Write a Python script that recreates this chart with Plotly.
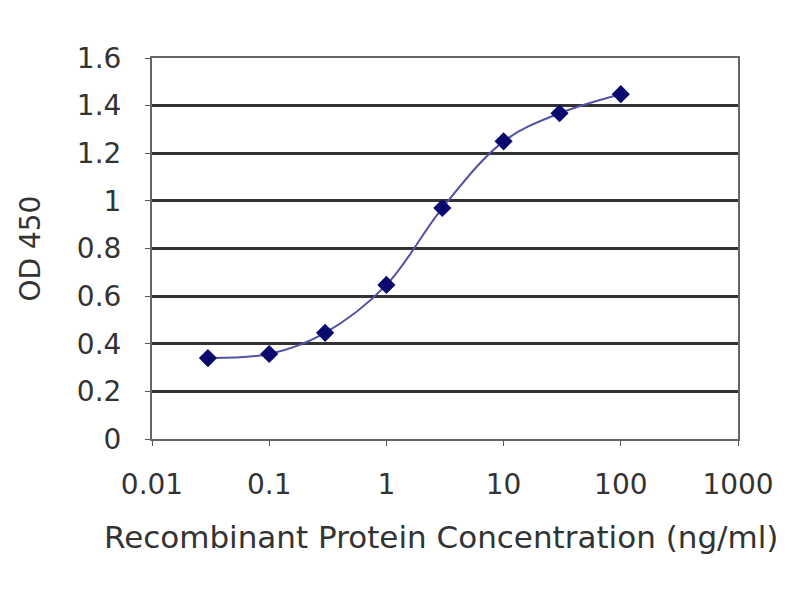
import plotly.graph_objects as go

# concentration (ng/ml) vs OD 450
conc = [0.03, 0.1, 0.3, 1, 3, 10, 30, 100]
od450 = [0.34, 0.357, 0.446, 0.647, 0.97, 1.25, 1.368, 1.448]

x_ticks = [0.01, 0.1, 1, 10, 100, 1000]
x_tick_labels = ["0.01", "0.1", "1", "10", "100", "1000"]
y_ticks = [0, 0.2, 0.4, 0.6, 0.8, 1, 1.2, 1.4, 1.6]
y_tick_labels = ["0", "0.2", "0.4", "0.6", "0.8", "1", "1.2", "1.4", "1.6"]

fig = go.Figure()
fig.add_trace(go.Scatter(
    x=conc, y=od450, mode="lines+markers",
    line=dict(color="#5252a6", width=2, shape="spline", smoothing=1),
    marker=dict(symbol="diamond", size=14, color="#0a0a6e"),
    showlegend=False,
))

font = dict(family="DejaVu Sans, sans-serif", size=28, color="#333333")

# page has an 8px body offset, so margins are trimmed by 8 on left/top
fig.update_layout(
    width=800, height=600,
    margin=dict(l=144, r=70, t=50, b=169),
    paper_bgcolor="white", plot_bgcolor="white",
    font=font,
)
fig.update_xaxes(
    type="log", range=[-2, 3], automargin=False,
    tickvals=x_ticks, ticktext=x_tick_labels,
    ticks="outside", ticklen=5, tickcolor="#555", ticklabelstandoff=14,
    showgrid=False, showline=True, linecolor="#666", linewidth=2, mirror=True,
)
fig.update_yaxes(
    range=[0, 1.6], automargin=False,
    tickvals=y_ticks, ticktext=y_tick_labels,
    ticks="outside", ticklen=5, tickcolor="#555", ticklabelstandoff=18,
    showgrid=True, gridcolor="#333", gridwidth=2.5,
    showline=True, linecolor="#666", linewidth=2, mirror=True,
    zeroline=False,
)

# axis titles placed as annotations
fig.add_annotation(
    text="Recombinant Protein Concentration (ng/ml)",
    xref="paper", yref="paper", x=0.494, y=-0.257,
    xanchor="center", yanchor="middle", showarrow=False,
    font=dict(family="DejaVu Sans, sans-serif", size=31, color="#333333"),
)
fig.add_annotation(
    text="OD 450", textangle=-90,
    xref="paper", yref="paper", x=-0.208, y=0.5,
    xanchor="center", yanchor="middle", showarrow=False,
    font=dict(family="DejaVu Sans, sans-serif", size=28, color="#333333"),
)

fig.write_html("out.html")
